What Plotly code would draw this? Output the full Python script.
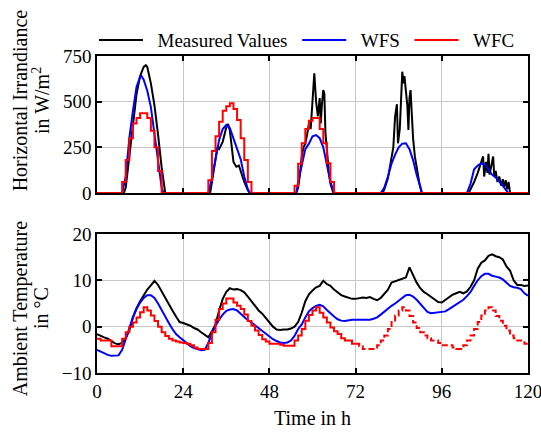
import plotly.graph_objects as go
from plotly.subplots import make_subplots

# ---- irradiance (W/m^2) ----
meas_irr_t = [0, 7.5, 8, 9, 10, 11, 12, 13, 13.6, 14, 15, 16, 17, 18, 19,
              31.5, 32, 33, 33.5, 34, 35, 36, 36.5, 37, 37.5, 38, 38.8, 39.5, 40, 41, 42, 42.5,
              55.5, 56, 56.5, 57, 57.5, 58, 58.5, 59, 59.5, 60, 60.5, 61, 61.5, 62, 62.3, 62.6, 63, 63.3, 63.6, 64, 64.5, 65, 65.8,
              79.5, 80, 81, 82, 82.5, 83, 83.5, 83.8, 84.3, 85, 85.3, 85.6, 86, 86.4, 86.7, 87, 87.3, 87.6, 88, 88.5, 89, 89.7, 90.4,
              103.5, 104, 105, 106, 107, 107.5, 107.8, 108.3, 108.7, 109, 109.3, 109.7, 110.3, 110.6, 111, 111.5, 112, 112.5, 113, 113.3, 113.8, 114.2, 114.6, 115, 120]
meas_irr = [0, 0, 30, 200, 380, 540, 640, 690, 700, 690, 600, 480, 320, 140, 0,
            0, 60, 190, 250, 240, 280, 360, 378, 340, 260, 170, 144, 150, 120, 60, 15, 0,
            0, 30, 100, 200, 250, 270, 320, 380, 350, 480, 655, 500, 420, 520, 380, 480, 563, 545, 330, 240, 120, 50, 0,
            0, 20, 80, 180, 250, 420, 486, 272, 350, 664, 600, 640, 540, 480, 345, 520, 563, 450, 300, 200, 130, 60, 0,
            0, 20, 60, 110, 170, 200, 90, 170, 110, 215, 100, 140, 200, 90, 120, 60, 90, 40, 75, 30, 70, 20, 60, 0, 0]

wfs_irr_t = [0, 7, 8, 9, 10, 11, 12, 12.4, 13, 14, 15, 16, 17, 18, 18.5,
             31, 32, 33, 34, 35, 36, 37, 38, 39, 40, 41, 42, 42.6,
             55.5, 56, 57, 58, 59, 60, 61, 62, 63, 64, 65, 66, 66.4,
             79, 80, 81, 82, 83, 84, 85, 86, 87, 88, 89, 90, 90.5,
             103, 104, 105, 106, 107, 108, 109, 110, 111, 112, 113, 114, 114.5, 120]
wfs_irr = [0, 0, 90, 300, 450, 580, 635, 640, 620, 560, 470, 330, 170, 30, 0,
           0, 80, 190, 290, 350, 372, 355, 300, 240, 185, 90, 20, 0,
           0, 60, 150, 240, 270, 310, 317, 300, 250, 150, 60, 5, 0,
           0, 30, 90, 160, 210, 250, 270, 272, 240, 180, 100, 30, 0,
           0, 50, 130, 150, 162, 155, 130, 100, 85, 65, 40, 12, 0, 0]

wfc_irr_t = [0, 7, 8, 9, 10, 11, 12, 13, 14, 15, 16, 17, 18,
             31, 32, 33, 34, 35, 36, 37, 38, 39, 40, 41, 42, 43,
             55, 56, 57, 58, 59, 60, 61, 62, 63, 64, 65, 66, 120]
wfc_irr = [0, 60, 180, 300, 380, 410, 436, 436, 410, 340, 250, 120, 0,
           70, 230, 310, 390, 450, 475, 491, 460, 400, 300, 180, 60, 0,
           40, 160, 272, 350, 395, 410, 410, 350, 272, 162, 60, 0, 0]

# ---- ambient temperature (degC), hourly ----
hours = list(range(0, 121))
meas_temp = [-1.6, -2.0, -2.3, -2.6, -3.2, -3.6, -3.8, -3.5, -2.5, -0.8,
             2.0, 4.0, 5.5, 6.8, 8.0, 8.9, 9.9, 9.0, 7.6, 6.0,
             4.8, 3.5, 2.2, 1.0, 0.8, 0.5, 0.2, -0.3, -0.6, -1.2,
             -1.8, -2.3, -1.0, 0.5, 3.5, 6.0, 7.5, 8.3, 8.0, 8.1,
             7.9, 7.4, 6.5, 5.5, 4.5, 3.5, 2.8, 1.8, 0.8, 0.0,
             -0.6, -0.7, -0.6, -0.6, -0.4, 0.0, 1.0, 3.0, 5.5, 7.0,
             7.8, 8.5, 8.8, 9.9, 9.2, 8.8, 8.0, 7.3, 6.8, 6.5,
             6.2, 6.0, 6.0, 6.1, 6.3, 6.2, 6.4, 6.0, 5.7, 6.2,
             7.0, 8.0, 9.5, 9.8, 10.0, 10.4, 10.6, 12.8, 11.0, 9.5,
             8.3, 7.5, 7.0, 6.4, 5.8, 5.3, 5.2, 5.8, 6.5, 6.9,
             7.2, 7.5, 7.2, 7.6, 8.6, 10.0, 12.5, 13.8, 14.3, 15.3,
             15.6, 15.2, 15.0, 14.5, 13.0, 12.1, 10.0, 9.0, 9.0, 8.8, 8.9]
wfs_temp = [-5.0, -5.4, -5.8, -6.1, -6.3, -6.3, -6.2, -5.0, -2.5, 0.0,
            2.0, 3.8, 5.2, 6.2, 6.8, 6.8, 6.2, 5.0, 3.5, 2.0,
            0.8, -0.5, -1.6, -2.3, -3.0, -3.6, -4.2, -4.6, -4.9, -5.1,
            -5.0, -3.5, -1.5, 0.2, 1.5, 2.6, 3.4, 3.7, 3.8, 3.5,
            2.8, 2.0, 1.4, 0.9, 0.3, -0.3, -1.0, -1.6, -2.2, -2.7,
            -3.1, -3.4, -3.5, -3.4, -3.0, -2.0, -0.5, 0.5, 2.0, 3.3,
            4.0, 4.5, 4.7, 4.4, 3.6, 2.8, 2.2, 1.6, 1.3, 1.2,
            1.4, 1.5, 1.5, 1.5, 1.4, 1.4, 1.5, 1.7, 2.0, 2.6,
            3.3, 4.0, 4.5, 5.0, 5.6, 6.2, 6.8, 6.9, 6.5, 5.8,
            5.0, 4.0, 3.2, 2.9, 3.0, 3.1, 3.1, 3.3, 3.8, 4.3,
            4.8, 5.2, 5.8, 6.6, 7.5, 8.8, 10.0, 10.9, 11.4, 11.4,
            11.0, 10.8, 10.6, 10.2, 9.5, 8.8, 8.5, 8.4, 8.1, 7.2, 6.7]
# WFC: forecast available up to 72 h, repeated afterwards (dashed)
wfc_temp = [-2.6, -3.0, -3.0, -3.0, -4.2, -4.2, -4.2, -2.6, -1.2, 0.0,
            0.9, 2.0, 3.1, 4.2, 3.5, 2.4, 1.2, 0.0, -1.2, -2.0,
            -2.6, -3.0, -3.2, -3.4, -3.5, -3.7, -4.0, -4.5, -4.8, -4.8,
            -4.8, -3.5, -1.2, 1.5, 3.8, 5.0, 6.1, 6.1, 5.2, 4.5,
            3.8, 2.6, 1.2, 0.2, -0.8, -1.8, -2.7, -3.2, -3.7, -3.7,
            -3.7, -3.9, -4.1, -4.1, -4.1, -3.0, -1.9, -0.5, 1.3, 2.5,
            3.5, 4.2, 3.0, 2.0, 0.9, -0.2, -1.0, -1.6, -2.5, -3.0,
            -3.0, -3.7, -3.7]
wfc_temp_rep = [-3.7, -4.2, -4.8, -4.8, -4.8, -4.8, -4.0, -3.0,
                -1.9, -0.5, 1.0, 2.4, 3.5, 4.2, 3.5, 2.3, 0.9, -0.3,
                -1.2, -1.9, -2.5, -3.0, -3.0, -3.5, -4.0, -4.0, -4.0, -4.5,
                -4.8, -4.8, -4.0, -3.0, -1.9, -0.5, 1.0, 2.4, 3.5, 4.2,
                3.5, 2.3, 1.3, 0.2, -0.8, -1.9, -2.5, -3.0, -3.0, -3.7, -4.2]

FONT = "Liberation Serif"
BLACK, BLUE, RED = "#000000", "#0000ff", "#ff0000"
NB = "\u00a0"  # spacing inside legend entries

fig = make_subplots(rows=2, cols=1, shared_xaxes=True)

fig.add_trace(go.Scatter(x=meas_irr_t, y=meas_irr, mode="lines", name=NB * 2 + "Measured Values" + NB,
                         line=dict(color=BLACK, width=2)), row=1, col=1)
fig.add_trace(go.Scatter(x=wfs_irr_t, y=wfs_irr, mode="lines", name=NB * 2 + "WFS" + NB,
                         line=dict(color=BLUE, width=2)), row=1, col=1)
fig.add_trace(go.Scatter(x=wfc_irr_t, y=wfc_irr, mode="lines", name=NB * 2 + "WFC",
                         line=dict(color=RED, width=2, shape="hv")), row=1, col=1)

fig.add_trace(go.Scatter(x=hours, y=meas_temp, mode="lines", showlegend=False,
                         line=dict(color=BLACK, width=2)), row=2, col=1)
fig.add_trace(go.Scatter(x=hours, y=wfs_temp, mode="lines", showlegend=False,
                         line=dict(color=BLUE, width=2)), row=2, col=1)
fig.add_trace(go.Scatter(x=hours[:73], y=wfc_temp, mode="lines", showlegend=False,
                         line=dict(color=RED, width=2, shape="hv")), row=2, col=1)
fig.add_trace(go.Scatter(x=hours[72:], y=wfc_temp_rep, mode="lines", showlegend=False,
                         line=dict(color=RED, width=2, shape="hv", dash="6px,3px")), row=2, col=1)

axis_style = dict(showline=True, linecolor="black", linewidth=1.5, mirror="ticks",
                  ticks="inside", ticklen=5, tickwidth=1.5, tickcolor="black",
                  showgrid=True, gridcolor="#c8c8c8", gridwidth=1, zeroline=False,
                  automargin=False,
                  tickfont=dict(family=FONT, size=19, color="black"))

fig.update_xaxes(range=[0, 120], tickvals=[0, 24, 48, 72, 96, 120],
                 ticklabeloverflow="allow", **axis_style)
fig.update_xaxes(showticklabels=False, row=1, col=1)
fig.update_yaxes(**axis_style)
fig.update_yaxes(range=[0, 750], tickvals=[0, 250, 500, 750], domain=[0.568, 1], row=1, col=1)
fig.update_yaxes(range=[-10, 20], tickvals=[-10, 0, 10, 20], domain=[0, 0.4385], row=2, col=1)

title_font = dict(family=FONT, size=20, color="black")
ylabels = [("Horizontal Irrandiance", -0.178, 0.861), ("in W/m<sup>2</sup>", -0.130, 0.861),
           ("Ambient Temperature", -0.178, 0.205), ("in °C", -0.130, 0.205)]
for txt, ax, ay in ylabels:
    fig.add_annotation(text=txt, xref="paper", yref="paper", x=ax, y=ay,
                       xanchor="center", yanchor="middle",
                       textangle=-90, showarrow=False, font=title_font)
fig.add_annotation(text="Time in h", xref="paper", yref="paper", x=0.5, y=-0.142,
                   xanchor="center", yanchor="middle", showarrow=False, font=title_font)

fig.update_layout(
    width=541, height=432,
    margin=dict(l=97, r=13, t=56, b=59, autoexpand=False),
    plot_bgcolor="white", paper_bgcolor="white",
    font=dict(family=FONT, size=19, color="black"),
    legend=dict(orientation="h", x=-0.007, xanchor="left", y=1.05, yanchor="middle",
                itemwidth=44, font=dict(family=FONT, size=19), bgcolor="rgba(0,0,0,0)"),
)

# drop the default page margin so the figure fills the window exactly
fig.write_html("out.html", config={"displayModeBar": False},
               post_script="document.body.style.margin='0px';")
